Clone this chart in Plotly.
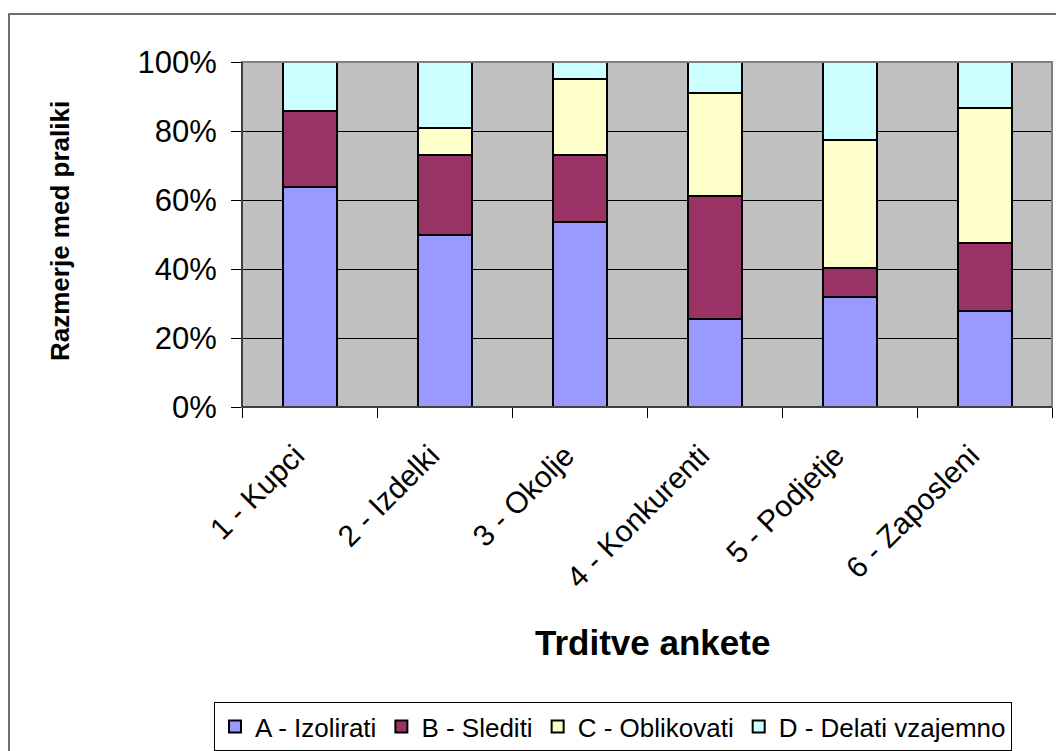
import plotly.graph_objects as go

categories = ["1 - Kupci", "2 - Izdelki", "3 - Okolje", "4 - Konkurenti", "5 - Podjetje", "6 - Zaposleni"]
series_names = ["A - Izolirati", "B - Slediti", "C - Oblikovati", "D - Delati vzajemno"]
a_vals = [63.8, 49.8, 53.6, 25.6, 31.9, 27.8]
b_vals = [21.9, 23.1, 19.3, 35.6, 8.4, 19.7]
c_vals = [0.0, 8.1, 22.2, 29.9, 37.2, 39.3]
d_vals = [14.3, 19.0, 4.9, 8.9, 22.5, 13.2]
colors = ["#9999FF", "#993366", "#FFFFCC", "#CCFFFF"]

FONT = "Liberation Sans, Arial, sans-serif"

fig = go.Figure()
for name, vals, col in zip(series_names, [a_vals, b_vals, c_vals, d_vals], colors):
    fig.add_trace(go.Bar(
        x=categories, y=vals, name=name,
        marker=dict(color=col, line=dict(color="black", width=2)),
    ))

W, H = 1056, 751
plot_left, plot_right, plot_top, plot_bottom = 242, 1052, 62, 407
L = plot_left
R = W - plot_right
T = plot_top
B = H - plot_bottom
pw = W - L - R
ph = H - T - B

def px_x(x):
    return (x - L) / pw

def px_y(y):
    return (H - B - y) / ph

fig.update_layout(
    width=W, height=H,
    barmode="stack", bargap=0.6,
    paper_bgcolor="white", plot_bgcolor="#C0C0C0",
    margin=dict(l=L, r=R, t=T, b=B, autoexpand=False),
    font=dict(family=FONT, color="black"),
    showlegend=True,
    legend=dict(
        orientation="h", x=px_x(214), y=px_y(702), xanchor="left", yanchor="top",
        font=dict(size=26, family=FONT), bordercolor="black", borderwidth=1,
        bgcolor="white", traceorder="normal", itemclick=False,
    ),
    xaxis=dict(
        tickangle=-45, tickfont=dict(size=30), ticks="outside", ticklen=10,
        tickcolor="black", tickson="boundaries", showgrid=False,
        showline=False, ticklabelshift=-14, ticklabelstandoff=24,
    ),
    yaxis=dict(
        range=[0, 100], dtick=20, ticksuffix="%", tickfont=dict(size=31),
        ticks="outside", ticklen=10, tickcolor="black", ticklabelstandoff=8,
        showgrid=True, gridcolor="black", gridwidth=1, showline=False,
        zeroline=False,
    ),
    shapes=[
        dict(type="rect", xref="paper", yref="paper", x0=0, x1=1, y0=0, y1=1,
             line=dict(color="#808080", width=2)),
        dict(type="line", xref="paper", yref="paper", x0=0, x1=0, y0=0, y1=1,
             line=dict(color="black", width=1)),
        dict(type="line", xref="paper", yref="paper", x0=0, x1=1, y0=0, y1=0,
             line=dict(color="black", width=1)),
        dict(type="rect", xref="paper", yref="paper",
             x0=px_x(9), x1=px_x(1070), y0=px_y(770), y1=px_y(14),
             line=dict(color="#404040", width=1.5)),
    ],
    annotations=[
        dict(text="<b>Trditve ankete</b>", xref="paper", yref="paper",
             x=px_x(652), y=px_y(642), xanchor="center", yanchor="middle",
             showarrow=False, font=dict(size=35, family=FONT)),
        dict(text="<b>Razmerje med praliki</b>", xref="paper", yref="paper",
             x=px_x(60), y=px_y(231), xanchor="center", yanchor="middle",
             textangle=-90, showarrow=False, font=dict(size=26, family=FONT)),
    ],
)

fig.write_html(
    "out.html",
    config={"displayModeBar": False},
    post_script="document.body.style.margin='0px';document.body.style.overflow='hidden';",
)
